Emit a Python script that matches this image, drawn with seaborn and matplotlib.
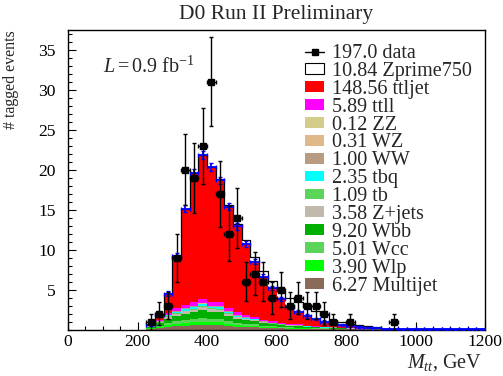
import numpy as np
import pandas as pd
import matplotlib
matplotlib.use("Agg")
import matplotlib.pyplot as plt
from matplotlib.patches import Patch
from matplotlib.lines import Line2D
from matplotlib.ticker import MultipleLocator
import seaborn as sns

# ---------------- data (bins of 25 GeV, first bin starts at 225 GeV) ----------------
bin_width = 25
first_edge = 225
x_max = 1200

data_counts = [1, 2, 3, 9, 20, 19, 23, 31, 17, 12, 14, 6, 7, 6, 4, 5, 3, 4, 3, 3,
               2, 1, 0, 1, 0, 0, 0, 0, 1]

ttljet = [0.05, 0.67, 2.40, 6.51, 11.98, 16.17, 17.97, 16.81, 15.27, 12.66, 10.74,
          8.86, 6.88, 5.38, 4.17, 2.94, 2.11, 1.57, 1.20, 0.87, 0.65, 0.43, 0.32,
          0.23, 0.16, 0.11, 0.09, 0.07, 0.06, 0.05, 0.04, 0.04, 0.03, 0.03, 0.02,
          0.02, 0.02, 0.01, 0.01]
ttll = [0.03, 0.10, 0.25, 0.35, 0.45, 0.50, 0.55, 0.50, 0.50, 0.40, 0.33, 0.28, 0.25,
        0.20, 0.17, 0.15, 0.13, 0.11, 0.09, 0.08, 0.07, 0.06, 0.05, 0.04, 0.04, 0.03, 0.03]
zz = [0.0, 0.0, 0.01, 0.01, 0.01, 0.01, 0.01, 0.01, 0.01, 0.01, 0.01, 0.01, 0.01]
wz = [0.0, 0.01, 0.02, 0.02, 0.03, 0.03, 0.03, 0.03, 0.03, 0.02, 0.02, 0.02, 0.01,
      0.01, 0.01, 0.01, 0.01]
ww = [0.01, 0.03, 0.06, 0.07, 0.08, 0.09, 0.10, 0.09, 0.09, 0.07, 0.06, 0.05, 0.04,
      0.03, 0.03, 0.02, 0.02, 0.02, 0.01, 0.01, 0.01, 0.01]
tbq = [0.03, 0.08, 0.13, 0.17, 0.19, 0.21, 0.24, 0.22, 0.21, 0.17, 0.13, 0.11, 0.10,
       0.07, 0.06, 0.05, 0.04, 0.04, 0.03, 0.03, 0.02, 0.02, 0.01, 0.01, 0.01, 0.01]
tb = [0.02, 0.04, 0.06, 0.08, 0.09, 0.10, 0.11, 0.10, 0.10, 0.08, 0.06, 0.05, 0.04,
      0.03, 0.03, 0.02, 0.02, 0.02, 0.01, 0.01, 0.01, 0.01]
zjets = [0.05, 0.11, 0.20, 0.25, 0.29, 0.32, 0.36, 0.33, 0.32, 0.25, 0.20, 0.17, 0.15,
         0.11, 0.09, 0.08, 0.07, 0.06, 0.05, 0.04, 0.03, 0.03, 0.02, 0.02, 0.01, 0.01, 0.01]
wbb = [0.12, 0.28, 0.52, 0.65, 0.75, 0.82, 0.93, 0.84, 0.82, 0.65, 0.50, 0.43, 0.38,
       0.29, 0.24, 0.20, 0.17, 0.14, 0.12, 0.10, 0.08, 0.07, 0.06, 0.05, 0.04, 0.04, 0.03]
wcc = [0.07, 0.16, 0.28, 0.36, 0.41, 0.45, 0.50, 0.46, 0.45, 0.36, 0.28, 0.24, 0.21,
       0.16, 0.13, 0.11, 0.09, 0.08, 0.06, 0.05, 0.04, 0.04, 0.03, 0.02, 0.02, 0.02, 0.01]
wlp = [0.06, 0.12, 0.22, 0.28, 0.32, 0.35, 0.40, 0.36, 0.35, 0.28, 0.22, 0.18, 0.16,
       0.12, 0.10, 0.08, 0.07, 0.06, 0.05, 0.04, 0.03, 0.03, 0.02, 0.02, 0.01, 0.01, 0.01]
multijet = [0.10, 0.20, 0.35, 0.45, 0.50, 0.55, 0.60, 0.55, 0.55, 0.45, 0.35, 0.30, 0.27,
            0.20, 0.17, 0.14, 0.12, 0.10, 0.08, 0.07, 0.06, 0.05, 0.04, 0.03, 0.03, 0.02, 0.02]
zprime750 = [0.0, 0.0, 0.0, 0.0, 0.0, 0.0, 0.0, 0.05, 0.10, 0.15, 0.25, 0.45, 0.60,
             0.75, 0.90, 1.05, 1.15, 1.20, 1.20, 1.05, 0.80, 0.50, 0.40, 0.30, 0.25,
             0.15, 0.10, 0.05]
mc_err = [0.10, 0.25, 0.35, 0.40, 0.45, 0.45, 0.50, 0.50, 0.45, 0.45, 0.40, 0.40, 0.35,
          0.30, 0.30, 0.25, 0.25, 0.20, 0.20, 0.15, 0.15, 0.10, 0.10, 0.10, 0.10, 0.10,
          0.05, 0.05, 0.05, 0.05, 0.05, 0.05, 0.05, 0.05, 0.05, 0.05, 0.05, 0.05, 0.05]

# legend: top-to-bottom order (= stack order from top)
stack_names = ["ttljet", "ttll", "ZZ", "WZ", "WW", "tbq", "tb", "Z+jets",
               "Wbb", "Wcc", "Wlp", "Multijet"]
stack_values = [ttljet, ttll, zz, wz, ww, tbq, tb, zjets, wbb, wcc, wlp, multijet]
stack_yields = ["148.56", "5.89", "0.12", "0.31", "1.00", "2.35", "1.09", "3.58",
                "9.20", "5.01", "3.90", "6.27"]
data_yield = "197.0"
zprime_yield = "10.84"
colors = {"ttljet": "#ff0000", "ttll": "#ff00ff", "ZZ": "#d3cc8a", "WZ": "#dfb98a",
          "WW": "#b99b82", "tbq": "#00ffff", "tb": "#5ad55a", "Z+jets": "#c2b9ad",
          "Wbb": "#00b000", "Wcc": "#5ad55a", "Wlp": "#00ff00", "Multijet": "#8c6a5a"}

# ---------------- prepare ----------------
edges = np.arange(first_edge, x_max + bin_width, bin_width)
nb = len(edges) - 1
centers = edges[:-1] + bin_width / 2


def full(v):
    a = np.zeros(nb)
    a[:len(v)] = v
    return a


rows = []
for name, vals in zip(stack_names, stack_values):
    for c, w in zip(centers, full(vals)):
        rows.append({"x": float(c), "w": float(w), "comp": name})
df = pd.DataFrame(rows)

sm_total = np.sum([full(v) for v in stack_values], axis=0)
with_zp = sm_total + full(zprime750)
df_zp = pd.DataFrame({"x": centers.astype(float), "w": with_zp})

# ---------------- figure ----------------
sns.set_style("ticks")
plt.rcParams["font.family"] = ["Liberation Serif", "DejaVu Serif"]
plt.rcParams["mathtext.fontset"] = "custom"
plt.rcParams["mathtext.rm"] = "Liberation Serif"
plt.rcParams["mathtext.it"] = "Liberation Serif:italic"

fig = plt.figure(figsize=(5.03, 3.76), dpi=100)
W, H = 503, 376
ax_l, ax_r, ax_b, ax_t = 68, 485, 329.5, 30
ax = fig.add_axes([ax_l / W, 1 - ax_b / H, (ax_r - ax_l) / W, (ax_b - ax_t) / H])

sns.histplot(data=df, x="x", weights="w", hue="comp", hue_order=stack_names,
             palette=colors, binwidth=bin_width, binrange=(first_edge, x_max),
             multiple="stack", element="bars", alpha=1, linewidth=0,
             legend=False, ax=ax)

# Zprime stacked on top: hollow outline
sns.histplot(data=df_zp, x="x", weights="w", binwidth=bin_width,
             binrange=(first_edge, x_max), element="step", fill=False,
             color="black", linewidth=0.9, ax=ax)

# MC total with stat errors (blue crosses)
m = sm_total > 0
ax.errorbar(centers[m], sm_total[m], xerr=bin_width / 2, yerr=np.array(mc_err)[m],
            fmt="none", ecolor="#0000ff", elinewidth=1.3, capsize=1.5, zorder=5)

# data
dc = full(data_counts)
md = dc > 0
ax.errorbar(centers[md], dc[md], xerr=bin_width / 2, yerr=np.sqrt(dc[md]),
            fmt="s", color="black", markersize=5.0, elinewidth=1.0, capsize=1.5,
            zorder=6)

ax.set_xlim(0, 1200)
ax.set_ylim(0, 37.5)
ax.set_xticks(np.arange(0, 1201, 200))
ax.set_yticks(np.arange(5, 36, 5))
ax.xaxis.set_minor_locator(MultipleLocator(50))
ax.yaxis.set_minor_locator(MultipleLocator(1))
ax.tick_params(which="both", direction="in", top=False, right=False, colors="black",
               labelsize=12.6)
ax.tick_params(which="major", length=6, width=0.8)
ax.tick_params(which="minor", length=3, width=0.8)
ax.tick_params(axis="x", pad=3)
ax.tick_params(axis="y", pad=9)
for s in ax.spines.values():
    s.set_visible(True)
    s.set_color("black")
    s.set_linewidth(1.0)

ax.set_ylabel("# tagged events", loc="top", fontsize=11.5)
ax.yaxis.set_label_coords((19 - ax_l) / (ax_r - ax_l), 1.0)
ax.set_xlabel(r"$M_{tt}$, GeV", loc="right", fontsize=14.5)
ax.xaxis.set_label_coords((482 - ax_l) / (ax_r - ax_l), (ax_b - 352) / (ax_b - ax_t))

fig.text(276.5 / W, 1 - 15 / H, "D0 Run II Preliminary", ha="center", va="center",
         fontsize=15.5)
ax.text((103 - ax_l) / (ax_r - ax_l), (ax_b - 67) / (ax_b - ax_t),
        r"$L = 0.9$ fb$^{-1}$", ha="left", va="center", fontsize=14.5,
        transform=ax.transAxes)

# legend
handles = [Line2D([], [], color="black", marker="s", markersize=5.0, lw=1.0),
           Patch(facecolor="white", edgecolor="black", linewidth=0.8)]
labels = [f"{data_yield} data", f"{zprime_yield} Zprime750"]
for name, y in zip(stack_names, stack_yields):
    handles.append(Patch(facecolor=colors[name], edgecolor="none"))
    labels.append(f"{y} {name}")
leg = ax.legend(handles, labels, loc="upper left",
                bbox_to_anchor=((305 - ax_l) / (ax_r - ax_l), (ax_b - 44) / (ax_b - ax_t)),
                frameon=False, fontsize=14.5, borderaxespad=0, borderpad=0,
                labelspacing=-0.055, handlelength=0.95, handleheight=0.45,
                handletextpad=0.4)

fig.savefig("out.png", dpi=100)
